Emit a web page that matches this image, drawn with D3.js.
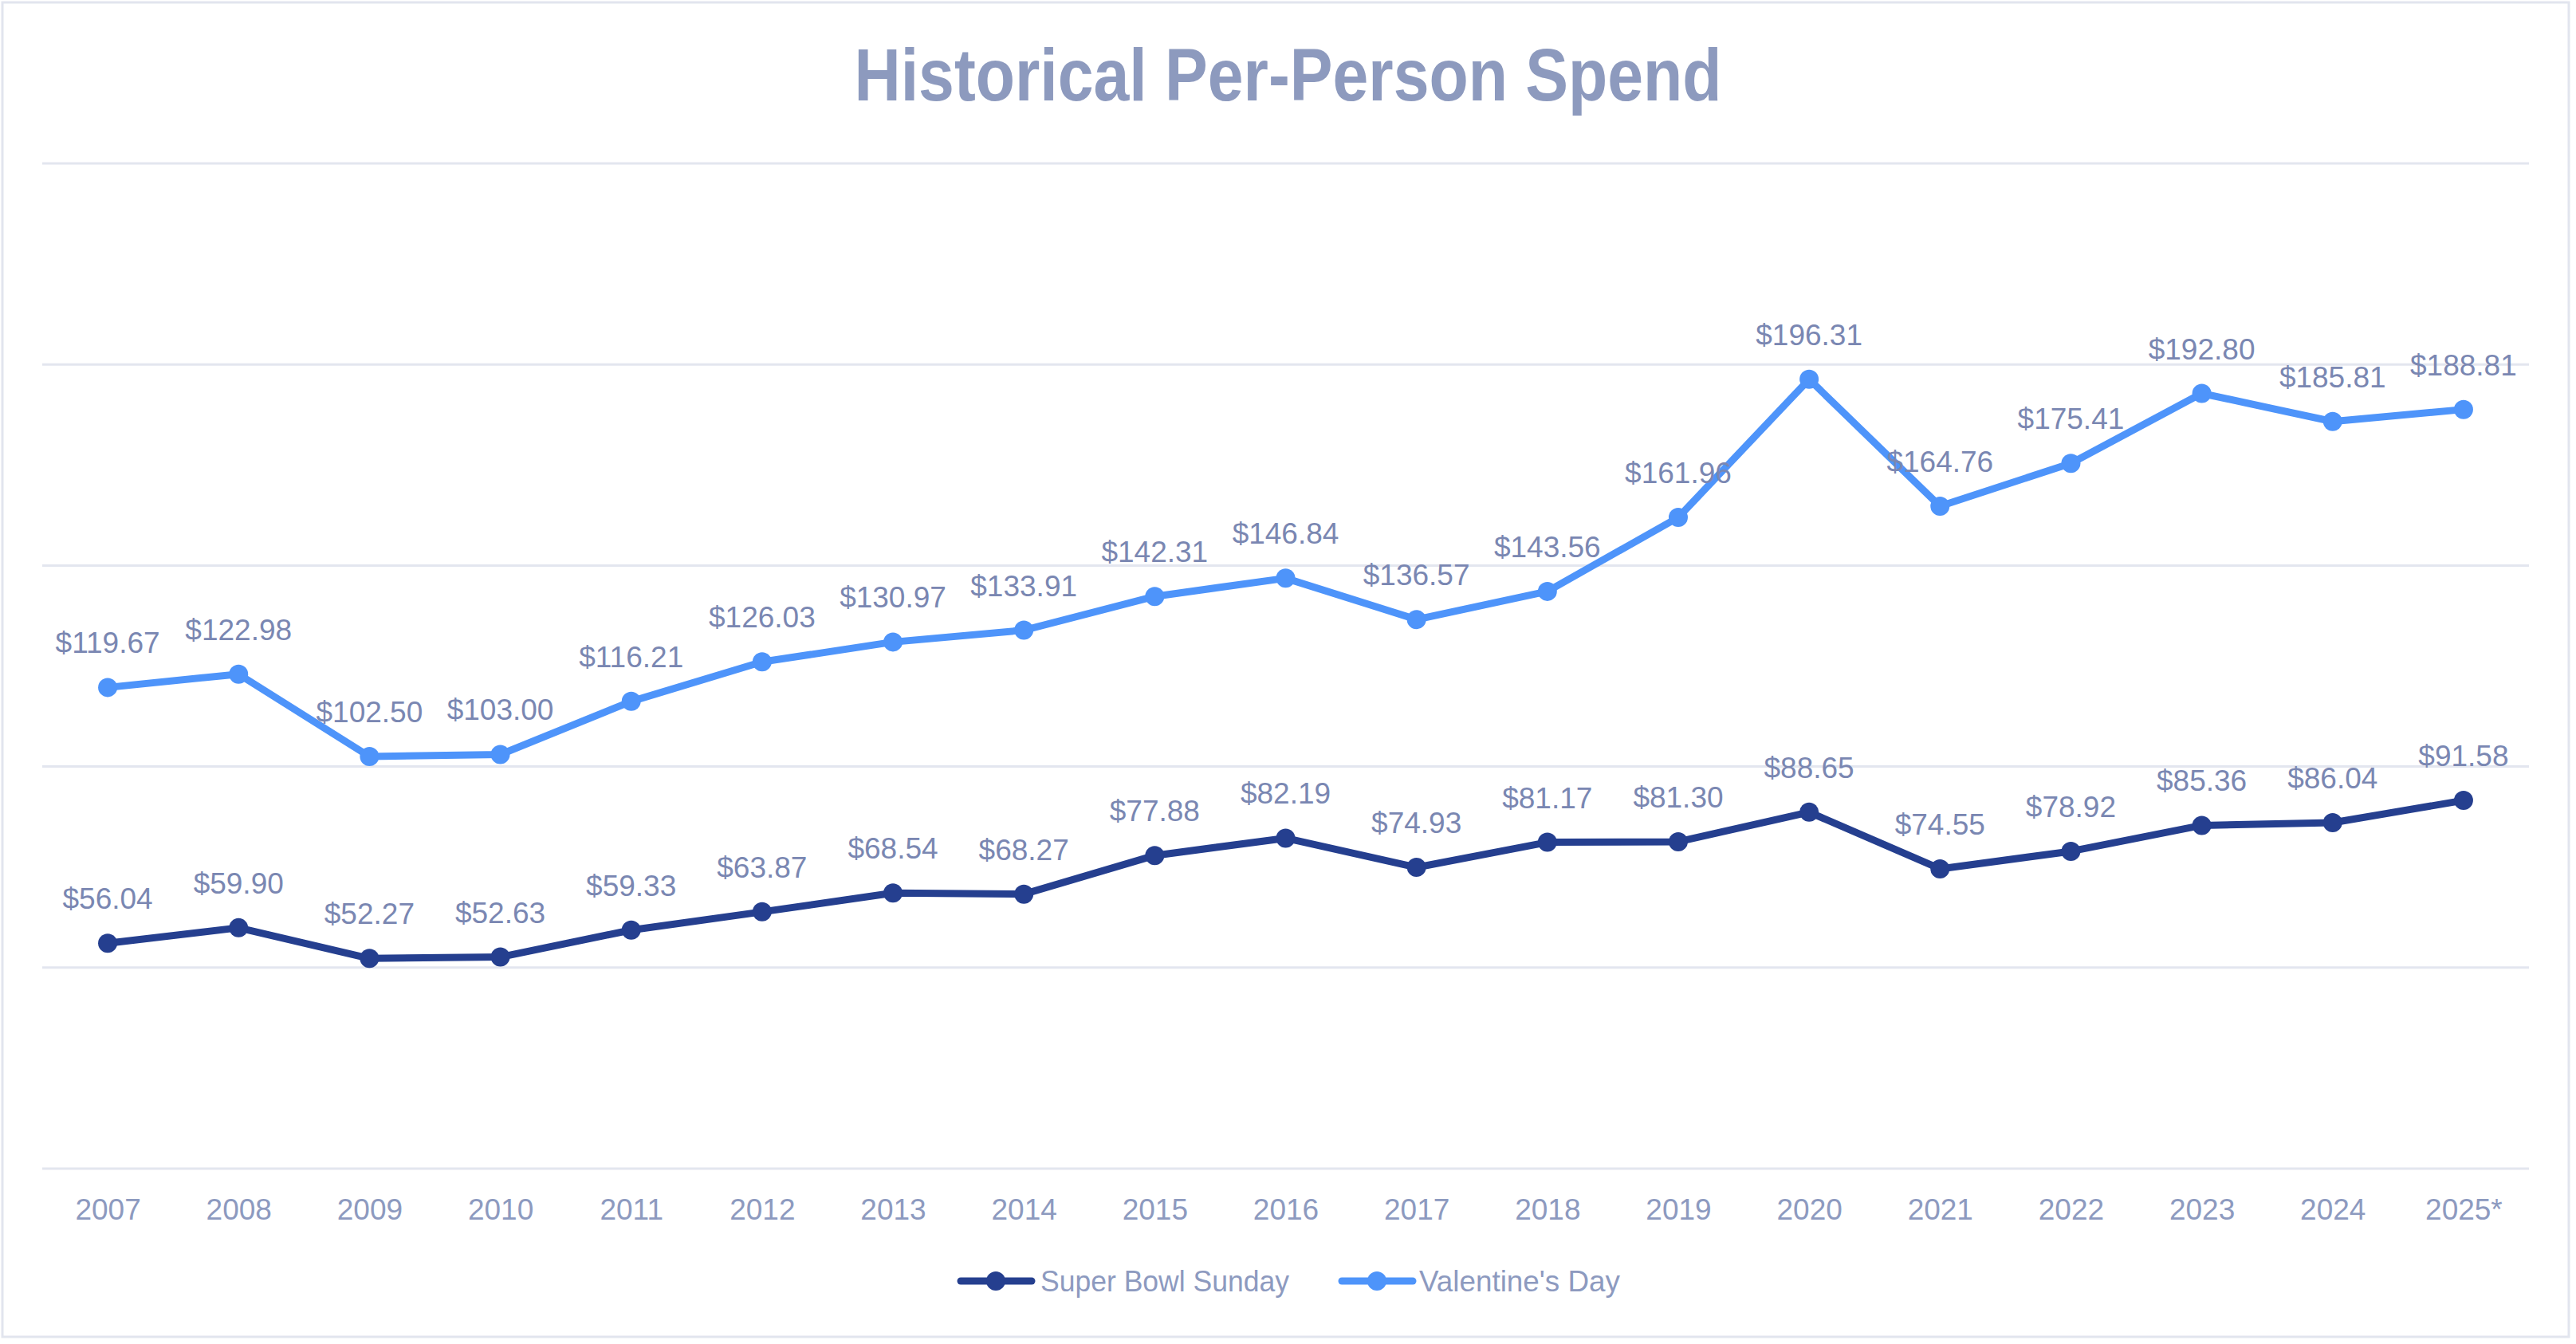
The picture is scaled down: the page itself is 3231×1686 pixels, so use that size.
<!DOCTYPE html>
<html>
<head>
<meta charset="utf-8">
<script src="https://cdn.jsdelivr.net/npm/d3@7"></script>
<style>
  html, body { margin: 0; padding: 0; background: #fff; }
  svg { display: block; }
</style>
</head>
<body>
<svg id="chart" width="3231" height="1686"></svg>
<script>
const years = ["2007","2008","2009","2010","2011","2012","2013","2014","2015","2016","2017","2018","2019","2020","2021","2022","2023","2024","2025*"];
const superBowl = [56.04,59.90,52.27,52.63,59.33,63.87,68.54,68.27,77.88,82.19,74.93,81.17,81.30,88.65,74.55,78.92,85.36,86.04,91.58];
const valentines = [119.67,122.98,102.50,103.00,116.21,126.03,130.97,133.91,142.31,146.84,136.57,143.56,161.96,196.31,164.76,175.41,192.80,185.81,188.81];
const seriesNames = ["Super Bowl Sunday","Valentine's Day"];
const seriesColors = ["#253F8F","#4E94FA"];
const yTicks = [0,50,100,150,200,250];

const W = 3231, H = 1686;
const svg = d3.select("#chart");
const fontFam = "'Liberation Sans', Arial, sans-serif";

// border
svg.append("rect").attr("x",3).attr("y",3).attr("width",W-12).attr("height",H-12)
  .attr("fill","#fff").attr("stroke","#E2E5EE").attr("stroke-width",3);

const x = d3.scalePoint().domain(years).range([53,3172]).padding(0.5);
const y = d3.scaleLinear().domain([0,250]).range([1466,205]);

// gridlines
svg.append("g").selectAll("line").data(yTicks).join("line")
  .attr("x1",53).attr("x2",3172)
  .attr("y1",d=>y(d)).attr("y2",d=>y(d))
  .attr("stroke","#E3E6EF").attr("stroke-width",3);

// title
svg.append("text").attr("x",W/2).attr("y",126).attr("text-anchor","middle")
  .attr("font-family",fontFam).attr("font-weight","bold").attr("font-size",92)
  .attr("fill","#8D9ABE").attr("textLength",1088).attr("lengthAdjust","spacingAndGlyphs")
  .text("Historical Per-Person Spend");

// x axis
const xAxis = d3.axisBottom(x).tickSize(0).tickPadding(0);
const gx = svg.append("g").attr("transform","translate(0,1466)").call(xAxis);
gx.select(".domain").remove();
gx.selectAll("text").attr("font-family",fontFam).attr("font-size",37)
  .attr("fill","#8D9ABF").attr("dy",null).attr("y",64);

const data = [superBowl, valentines];
const line = d3.line().x((d,i)=>x(years[i])).y(d=>y(d));

data.forEach((vals,si)=>{
  const g = svg.append("g");
  g.append("path").datum(vals).attr("d",line).attr("fill","none")
    .attr("stroke",seriesColors[si]).attr("stroke-width",9)
    .attr("stroke-linejoin","round").attr("stroke-linecap","round");
  g.selectAll("circle").data(vals).join("circle")
    .attr("cx",(d,i)=>x(years[i])).attr("cy",d=>y(d)).attr("r",12)
    .attr("fill",seriesColors[si]);
});
data.forEach((vals,si)=>{
  svg.append("g").selectAll("text").data(vals).join("text")
    .attr("x",(d,i)=>x(years[i])).attr("y",d=>y(d)-43)
    .attr("text-anchor","middle").attr("font-family",fontFam).attr("font-size",37)
    .attr("fill","#7A87B2")
    .text(d=>"$"+d.toFixed(2));
});

// legend
const legendItems = [{lx:1201, tx:1305, tw:312},{lx:1679, tx:1780, tw:252}];
const ly = 1607;
legendItems.forEach((it,i)=>{
  const g = svg.append("g");
  g.append("line").attr("x1",it.lx+4).attr("x2",it.lx+93).attr("y1",ly).attr("y2",ly)
    .attr("stroke",seriesColors[i]).attr("stroke-width",9).attr("stroke-linecap","round");
  g.append("circle").attr("cx",it.lx+48).attr("cy",ly).attr("r",12).attr("fill",seriesColors[i]);
  g.append("text").attr("x",it.tx).attr("y",ly+13).attr("font-family",fontFam)
    .attr("font-size",37).attr("fill","#8D9ABF")
    .attr("textLength",it.tw).attr("lengthAdjust","spacingAndGlyphs")
    .text(seriesNames[i]);
});
</script>
</body>
</html>
